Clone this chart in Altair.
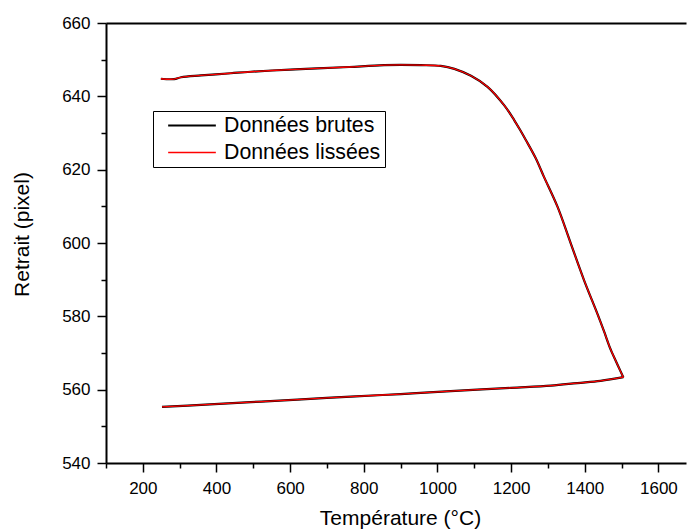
import altair as alt
import pandas as pd

# Heating branch (temperature °C, shrinkage in pixels)
heat_T = [249, 285, 304, 358, 439, 493, 600, 674, 760, 855, 955, 1009, 1046, 1091,
          1136, 1181, 1208, 1227, 1240, 1267, 1289, 1326, 1362, 1398, 1434, 1451,
          1469, 1475, 1490, 1505]
heat_R = [644.8, 644.7, 645.2, 645.7, 646.3, 646.7, 647.3, 647.6, 648.0, 648.5, 648.5,
          648.3, 647.5, 645.6, 642.6, 637.6, 633.6, 630.4, 628.1, 623.1, 618.1, 609.9,
          599.9, 589.9, 580.8, 576.3, 571.3, 569.9, 566.6, 563.3]
# Cooling branch
cool_T = [1505, 1443, 1380, 1308, 1200, 1036, 900, 765, 620, 493, 370, 252]
cool_R = [563.4, 562.4, 561.8, 561.1, 560.5, 559.6, 558.8, 558.1, 557.3, 556.6, 555.9, 555.3]

series_names = ["Données brutes", "Données lissées"]
series_colors = ["#000000", "#ff0000"]
series_widths = [2.2, 1.3]

x_major = [200, 400, 600, 800, 1000, 1200, 1400, 1600]
x_minor = [100, 300, 500, 700, 900, 1100, 1300, 1500]
y_major = [540, 560, 580, 600, 620, 640, 660]
y_minor = [550, 570, 590, 610, 630, 650]

FONT = "Liberation Sans"

rows = []
for s in series_names:
    for b, (Ts, Rs) in enumerate([(heat_T, heat_R), (cool_T, cool_R)]):
        for i, (t, r) in enumerate(zip(Ts, Rs)):
            rows.append({"serie": s, "branche": b, "T": t, "R": r, "ordre": i})
df = pd.DataFrame(rows)

xs = alt.Scale(domain=[100, 1675], nice=False, zero=False)
ys = alt.Scale(domain=[540, 660], nice=False, zero=False)

main = alt.Chart(df).mark_line(interpolate="catmull-rom").encode(
    x=alt.X("T:Q", scale=xs, title="Température (°C)",
            axis=alt.Axis(orient="bottom", values=x_major, format="d", grid=False,
                          tickSize=9, tickWidth=1.5, tickColor="black",
                          domainWidth=2, domainColor="black",
                          labelFont=FONT, labelFontSize=17, labelColor="black",
                          labelPadding=8, labelFlush=False,
                          titleFont=FONT, titleFontSize=21, titleFontWeight="normal",
                          titleColor="black", titleBaseline="alphabetic",
                          titleX=294, titleY=61, titleAlign="center")),
    y=alt.Y("R:Q", scale=ys, title="Retrait (pixel)",
            axis=alt.Axis(orient="left", values=y_major, format="d", grid=False,
                          tickSize=9, tickWidth=1.5, tickColor="black",
                          domainWidth=2, domainColor="black",
                          labelFont=FONT, labelFontSize=17, labelColor="black",
                          labelPadding=7, labelFlush=False,
                          titleFont=FONT, titleFontSize=21, titleFontWeight="normal",
                          titleColor="black", titleBaseline="alphabetic",
                          titleAngle=270, titleX=-78, titleY=211, titleAlign="center")),
    color=alt.Color("serie:N",
                    scale=alt.Scale(domain=series_names, range=series_colors),
                    legend=alt.Legend(orient="none", legendX=47, legendY=88, title=None,
                                      symbolType="stroke", symbolSize=2275,
                                      symbolStrokeWidth=1.2, labelFont=FONT,
                                      labelFontSize=21.3, labelColor="black",
                                      strokeColor="black", fillColor="white",
                                      padding=4, rowPadding=5, clipHeight=21,
                                      labelOffset=7, symbolOffset=10)),
    strokeWidth=alt.StrokeWidth("serie:N",
                                scale=alt.Scale(domain=series_names, range=series_widths),
                                legend=None),
    order="ordre:Q",
    detail="branche:N",
)

minor = alt.Chart(df).mark_point(opacity=0).encode(
    x=alt.X("T:Q", scale=xs, title="",
            axis=alt.Axis(orient="bottom", values=x_minor, labels=False, grid=False,
                          domain=False, tickSize=5, tickWidth=1.5, tickColor="black")),
    y=alt.Y("R:Q", scale=ys, title="",
            axis=alt.Axis(orient="left", values=y_minor, labels=False, grid=False,
                          domain=False, tickSize=5, tickWidth=1.5, tickColor="black")),
)

top = alt.Chart(df).mark_point(opacity=0).encode(
    x=alt.X("T:Q", scale=xs, title="",
            axis=alt.Axis(orient="top", labels=False, ticks=False, grid=False,
                          domain=True, domainWidth=2, domainColor="black")),
    y=alt.Y("R:Q", scale=ys, axis=None),
)

chart = alt.layer(main, minor, top).resolve_axis(
    x="independent", y="independent"
).properties(
    width=580, height=440,
    autosize=alt.AutoSizeParams(type="none"),
    padding={"left": 106, "top": 23, "right": 1, "bottom": 68},
    background="white",
).configure_view(stroke=None)

chart.save("out.html", embed_options={"renderer": "svg", "actions": False})
